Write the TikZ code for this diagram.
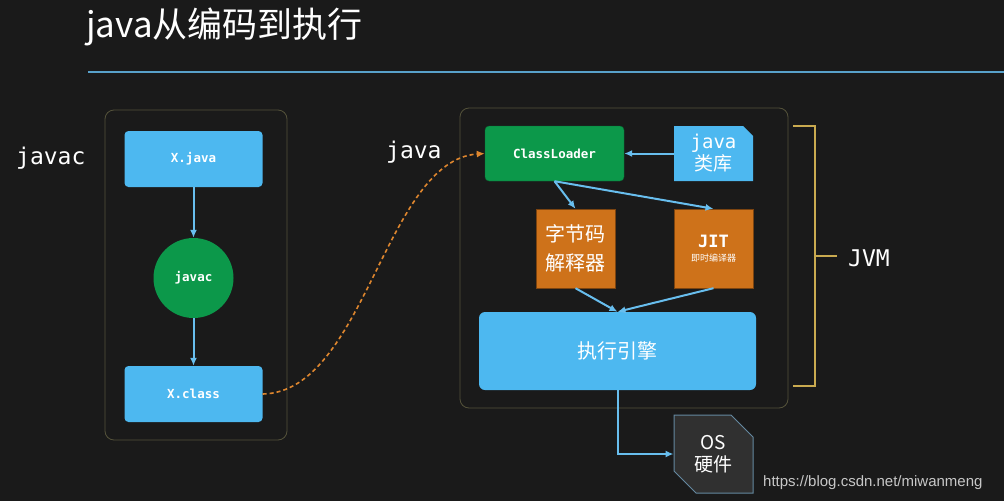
\documentclass[tikz,border=0pt]{standalone}
\usepackage{fontspec}
\setmonofont{DejaVu Sans Mono}
\newfontfamily\cjk{Noto Sans CJK SC}
\newfontfamily\webfont{Liberation Sans}
\usetikzlibrary{arrows.meta,shapes.misc}

\definecolor{boardbg}{RGB}{26,26,26}
\definecolor{skyblue}{RGB}{77,184,240}
\definecolor{leafgreen}{RGB}{12,152,74}
\definecolor{rustorange}{RGB}{206,114,26}
\definecolor{flowblue}{RGB}{104,190,238}
\definecolor{dashorange}{RGB}{222,134,46}
\definecolor{framegold}{RGB}{84,82,58}
\definecolor{bracketgold}{RGB}{201,170,80}
\definecolor{osgray}{RGB}{48,48,48}
\definecolor{osedge}{RGB}{100,136,160}

\begin{document}
\begin{tikzpicture}[x=1pt,y=-1pt,
  bluebox/.style={fill=skyblue, rounded corners=4pt, inner sep=0pt, text=white},
  greenbox/.style={fill=leafgreen, draw=leafgreen!70!black, rounded corners=4pt, inner sep=0pt, text=white},
  orangebox/.style={fill=rustorange, draw=rustorange!60!black, inner sep=0pt, text=white, align=center},
  groupframe/.style={draw=framegold, line width=0.8pt, rounded corners=9pt},
  flow/.style={draw=flowblue, line width=2pt, -{Latex[length=8pt,width=7pt]}},
  monotext/.style={font=\ttfamily\bfseries\fontsize{12.5}{15}\selectfont},
  biglabel/.style={text=white, font=\ttfamily\fontsize{23}{26}\selectfont}]

\fill[boardbg] (0,0) rectangle (1004,501);
\useasboundingbox (0,0) rectangle (1004,501);

% title and rule
\node[anchor=west, text=white, font=\cjk\fontsize{35}{40}\selectfont, inner sep=0pt] (title) at (86,27) {java从编码到执行};
\draw[line width=2.6pt, color=flowblue!85!black] (88,72) -- (1004,72);

% javac side
\draw[groupframe] (105,110) rectangle (287,440);
\node[biglabel, anchor=west, inner sep=0pt] (javaclabel) at (16,158) {javac};
\node[bluebox, monotext, minimum width=138, minimum height=56] (xjava) at (193.5,159) {X.java};
\node[circle, fill=leafgreen, text=white, monotext, minimum size=80, inner sep=0pt] (javacc) at (193.5,278) {javac};
\node[bluebox, monotext, minimum width=138, minimum height=56] (xclass) at (193.5,394) {X.class};
\draw[flow] (xjava.south) -- (javacc.north);
\draw[flow] (javacc.south) -- (xclass.north);

% jvm side
\draw[groupframe] (460,108) rectangle (788,408);
\node[biglabel, anchor=west, inner sep=0pt] (javalabel) at (386,152) {java};
\node[greenbox, monotext, minimum width=139, minimum height=55] (cload) at (554.5,153.5) {ClassLoader};
\node[chamfered rectangle, chamfered rectangle corners=north east, chamfered rectangle xsep=5pt, chamfered rectangle ysep=5pt,
  fill=skyblue, text=white, inner sep=0pt, minimum width=79, minimum height=55, align=center,
  font=\cjk\fontsize{19}{24}\selectfont] (jlib) at (713.5,153.5) {{\ttfamily java}\\[-2pt]类库};
\node[orangebox, minimum width=79, minimum height=79, font=\cjk\fontsize{20}{29}\selectfont] (zijie) at (575.5,248.5) {字节码\\解释器};
\node[orangebox, minimum width=79, minimum height=79, font=\cjk\fontsize{9}{11}\selectfont] (jit) at (713.5,248.5)
  {{\ttfamily\bfseries\fontsize{17}{20}\selectfont JIT}\\[3pt]即时编译器};
\node[bluebox, rounded corners=6pt, minimum width=277, minimum height=78, font=\cjk\fontsize{20}{24}\selectfont] (exec) at (617.5,351) {执行引擎};
\node[chamfered rectangle, chamfered rectangle corners={north east,south west}, chamfered rectangle xsep=11pt, chamfered rectangle ysep=11pt,
  fill=osgray, draw=osedge, line width=1pt, text=white, inner sep=0pt, minimum width=79, minimum height=78, align=center,
  font=\cjk\fontsize{19}{24}\selectfont] (os) at (713.5,454) {OS\\[-2pt]硬件};

\draw[flow] (jlib.west) -- (cload.east);
\draw[flow] (cload.south) -- (zijie.north);
\draw[flow] (cload.south) -- (jit.north);
\draw[flow] (zijie.south) -- (exec.north);
\draw[flow] (jit.south) -- (exec.north);
\draw[flow] (exec.south) |- (os.west);

% class file handed to the loader
\draw[dashorange, line width=1.6pt, dash pattern=on 4pt off 3pt, -{Latex[length=8pt,width=7pt]}] (xclass.east) .. controls (365,392) and (385,160) .. (cload.west);

% JVM bracket
\coordinate (jvmtop) at (793,126);
\coordinate (jvmbot) at (793,386);
\coordinate (jvmmid) at (815,256);
\coordinate (jvmtick) at (837,256);
\draw[bracketgold, line width=1.6pt] (jvmtop) -| (jvmbot -| jvmmid) -- (jvmbot);
\draw[bracketgold, line width=1.6pt] (jvmmid) -- (jvmtick);
\node[biglabel, anchor=west, inner sep=0pt] (jvm) at (848,258) {JVM};

\node[anchor=west, inner sep=0pt, text=white!78!black, font=\webfont\fontsize{15}{18}\selectfont] (site) at (763,483) {https://blog.csdn.net/miwanmeng};
\end{tikzpicture}
\end{document}
